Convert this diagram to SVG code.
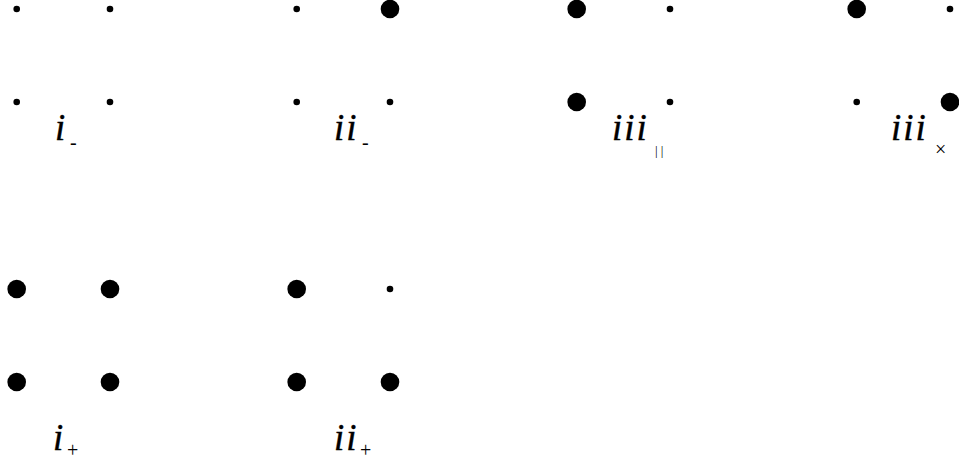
<svg xmlns="http://www.w3.org/2000/svg" width="959" height="464" viewBox="0 0 959 464">
<style>
.lbl{font-family:"Liberation Serif",serif;font-style:italic;font-size:37px;fill:#000;stroke:#000;stroke-width:0.4;letter-spacing:2px}
.sub{font-family:"Liberation Serif",serif;font-size:20px;fill:#000}
.sm{font-family:"Liberation Serif",serif;font-size:13px;fill:#000}
</style>
<rect width="959" height="464" fill="#fff"/>
<g id="i-minus">
<circle cx="16.7" cy="9" r="3.3"/><circle cx="110" cy="9" r="3.3"/>
<circle cx="16.7" cy="102" r="3.3"/><circle cx="110" cy="102" r="3.3"/>
<text class="lbl" x="55" y="140">i</text><text class="sub" x="70" y="149">-</text>
</g>
<g id="ii-minus">
<circle cx="296.7" cy="9" r="3.3"/><circle cx="390" cy="9" r="9.3"/>
<circle cx="296.7" cy="102" r="3.3"/><circle cx="390" cy="102" r="3.3"/>
<text class="lbl" x="334" y="140">ii</text><text class="sub" x="362" y="149">-</text>
</g>
<g id="iii-par">
<circle cx="576.7" cy="9" r="9.3"/><circle cx="670" cy="9" r="3.3"/>
<circle cx="576.7" cy="102" r="9.3"/><circle cx="670" cy="102" r="3.3"/>
<text class="lbl" x="612" y="140">iii</text><text class="sm" x="655" y="155">| |</text>
</g>
<g id="iii-cross">
<circle cx="856.7" cy="9" r="9.3"/><circle cx="950" cy="9" r="3.3"/>
<circle cx="856.7" cy="102" r="3.3"/><circle cx="950" cy="102" r="9.3"/>
<text class="lbl" x="891" y="140">iii</text><text class="sub" x="935" y="156" font-size="18">×</text>
</g>
<g id="i-plus">
<circle cx="16.7" cy="289" r="9.3"/><circle cx="110" cy="289" r="9.3"/>
<circle cx="16.7" cy="382" r="9.3"/><circle cx="110" cy="382" r="9.3"/>
<text class="lbl" x="53" y="450">i</text><text class="sub" x="67" y="457">+</text>
</g>
<g id="ii-plus">
<circle cx="296.7" cy="289" r="9.3"/><circle cx="390" cy="289" r="3.3"/>
<circle cx="296.7" cy="382" r="9.3"/><circle cx="390" cy="382" r="9.3"/>
<text class="lbl" x="334" y="450">ii</text><text class="sub" x="360" y="457">+</text>
</g>
<g id="connectors"></g>
</svg>
